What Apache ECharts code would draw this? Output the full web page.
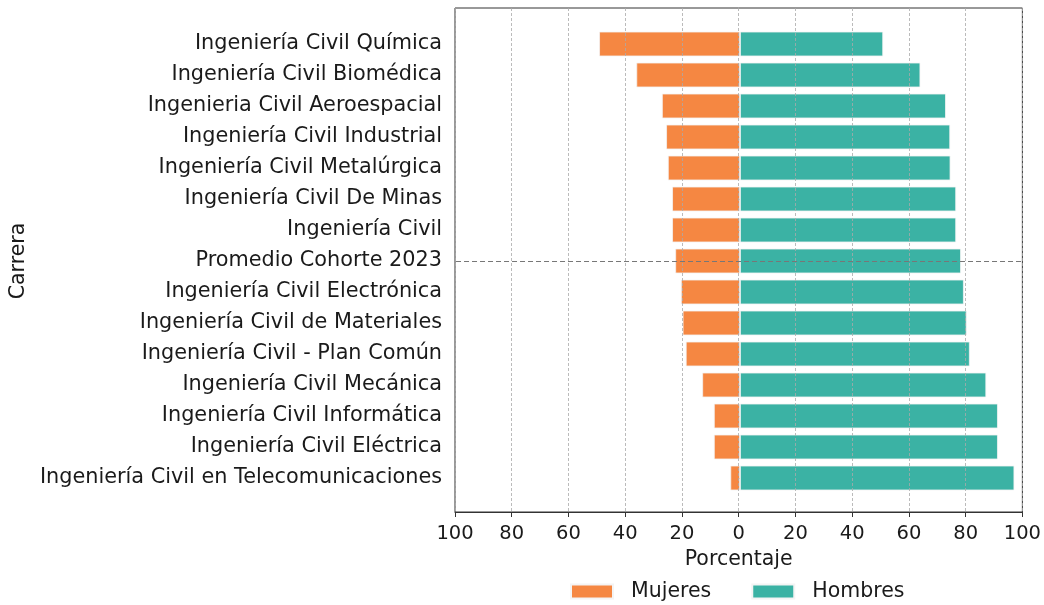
<html>
<head>
    <meta http-equiv="Content-Type" content="text/html; charset=utf-8" />
</head>
<script type="text/javascript" src="https://cdn.jsdelivr.net/npm/echarts@6/dist/echarts.min.js"></script>

<body style="margin:0">
<div id="main" style="width: 1044px;height:605px;"></div>
</body>

<script type="text/javascript">
    // datos de la figura (porcentajes por carrera)
    var carreras = [
        'Ingeniería Civil Química',
        'Ingeniería Civil Biomédica',
        'Ingenieria Civil Aeroespacial',
        'Ingeniería Civil Industrial',
        'Ingeniería Civil Metalúrgica',
        'Ingeniería Civil De Minas',
        'Ingeniería Civil',
        'Promedio Cohorte 2023',
        'Ingeniería Civil Electrónica',
        'Ingeniería Civil de Materiales',
        'Ingeniería Civil - Plan Común',
        'Ingeniería Civil Mecánica',
        'Ingeniería Civil Informática',
        'Ingeniería Civil Eléctrica',
        'Ingeniería Civil en Telecomunicaciones'
    ];
    var mujeres = [49.6, 36.5, 27.5, 26.0, 25.4, 23.9, 23.9, 22.8, 20.8, 20.2, 19.1, 13.3, 9.2, 9.2, 3.4];
    var hombres = [50.4, 63.5, 72.5, 74.0, 74.1, 76.1, 76.1, 77.8, 78.8, 79.8, 80.9, 86.7, 90.8, 90.8, 96.6];
    var lineaPromedio = 'Promedio Cohorte 2023';

    var fuente = 'DejaVu Sans';
    var colTexto = '#1a1a1a';
    var colMujeres = '#F58742';
    var colHombres = '#3BB2A4';

    var myChart = echarts.init(document.getElementById('main'));

    // mujeres a la izquierda (negativo)
    var mujeresNeg = [];
    for (var i = 0; i < mujeres.length; i++) {
        mujeresNeg.push(-mujeres[i]);
    }

    var option = {
        animation: false,
        textStyle: { fontFamily: fuente },
        grid: [
            // marco exterior con el eje x
            { left: 455, right: 20, top: 8, bottom: 93, show: true, borderColor: '#333', borderWidth: 1 },
            // zona de las barras
            { left: 455, right: 20, top: 28.5, bottom: 111.5 }
        ],
        legend: {
            bottom: -2,
            left: 565,
            itemWidth: 42,
            itemHeight: 14,
            itemGap: 40,
            icon: 'rect',
            textStyle: { fontFamily: fuente, fontSize: 20.5, color: colTexto, padding: [0, 0, 0, 13] },
            data: ['Mujeres', 'Hombres']
        },
        xAxis: [
            {
                gridIndex: 0,
                type: 'value',
                min: -100,
                max: 100,
                interval: 20,
                z: 5,
                name: 'Porcentaje',
                nameLocation: 'middle',
                nameGap: 37,
                nameTextStyle: { fontFamily: fuente, fontSize: 20.5, color: colTexto },
                axisLine: { show: true, lineStyle: { color: '#333', width: 1 } },
                axisTick: { show: true, length: 5, lineStyle: { color: '#333' } },
                axisLabel: {
                    fontFamily: fuente, fontSize: 19.5, color: colTexto, margin: 12,
                    formatter: function (v) { return Math.abs(v); }
                },
                splitLine: { show: true, lineStyle: { color: '#aaa', type: [3, 2], width: 0.8 } }
            },
            { gridIndex: 1, type: 'value', min: -100, max: 100, show: false }
        ],
        yAxis: [
            { gridIndex: 0, type: 'value', min: 0, max: 1, show: false },
            {
                gridIndex: 1,
                type: 'category',
                inverse: true,
                data: carreras,
                name: 'Carrera',
                nameLocation: 'middle',
                nameGap: 425,
                nameTextStyle: { fontFamily: fuente, fontSize: 20.5, color: colTexto },
                axisLine: { show: false },
                axisTick: { show: true, alignWithLabel: true, length: 5, lineStyle: { color: '#333' } },
                axisLabel: { fontFamily: fuente, fontSize: 20.8, color: colTexto, margin: 14, padding: [4, 0, 0, 0] },
                splitLine: { show: false }
            }
        ],
        series: [
            {
                name: 'Mujeres',
                type: 'bar',
                xAxisIndex: 1,
                yAxisIndex: 1,
                stack: 'total',
                barWidth: '80%',
                itemStyle: { color: colMujeres, borderColor: '#f4f4f4', borderWidth: 0.8 },
                data: mujeresNeg,
                markLine: {
                    silent: true,
                    symbol: 'none',
                    label: { show: false },
                    lineStyle: { color: '#777', type: [5, 3], width: 1 },
                    data: [{ yAxis: lineaPromedio }]
                }
            },
            {
                name: 'Hombres',
                type: 'bar',
                xAxisIndex: 1,
                yAxisIndex: 1,
                stack: 'total',
                barWidth: '80%',
                itemStyle: { color: colHombres, borderColor: '#f4f4f4', borderWidth: 0.8 },
                data: hombres
            }
        ]
    };

    myChart.setOption(option);
</script>
</html>
